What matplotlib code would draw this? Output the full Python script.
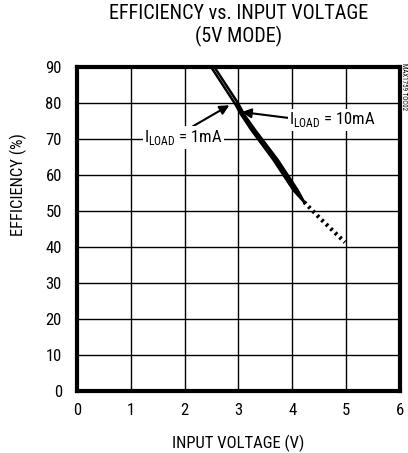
import matplotlib
matplotlib.use("Agg")
import matplotlib.pyplot as plt
import numpy as np

plt.rcParams["font.family"] = ["Roboto Condensed", "Liberation Sans", "DejaVu Sans"]
plt.rcParams["mathtext.fontset"] = "custom"
plt.rcParams["mathtext.rm"] = "Roboto Condensed"

# 1mA load curve (left edge of the band)
v_1ma = [2.50, 2.94, 3.04, 3.24, 3.65, 4.02, 4.22]
eff_1ma = [89.8, 79.7, 77.0, 72.5, 64.2, 55.8, 52.5]
# 10mA load curve (right edge of the band)
v_10ma = [2.56, 2.99, 3.11, 3.31, 3.73, 4.10, 4.22]
eff_10ma = [89.8, 80.0, 76.7, 72.5, 64.2, 55.8, 52.5]
# dotted extension
v_dot = [4.22, 4.5, 4.75, 4.98]
eff_dot = [52.5, 48.2, 44.6, 41.3]

xticks = [0, 1, 2, 3, 4, 5, 6]
yticks = [0, 10, 20, 30, 40, 50, 60, 70, 80, 90]

fig = plt.figure(figsize=(4.08, 4.53), dpi=100)
ax = fig.add_axes([0.189, 0.137, 0.791, 0.715])

ax.plot(v_1ma, eff_1ma, color="black", lw=1.8, solid_capstyle="round")
ax.plot(v_10ma, eff_10ma, color="black", lw=1.8, solid_capstyle="round")
# the two curves run together below ~80%, drawn as one filled band
ax.fill(v_1ma[1:] + v_10ma[:0:-1], eff_1ma[1:] + eff_10ma[:0:-1], color="black", lw=0)
ax.plot(v_dot, eff_dot, color="black", lw=3.0, linestyle=(0, (0.6, 0.9)))

ax.set_xlim(0, 6)
ax.set_ylim(0, 90)
ax.set_xticks(xticks)
ax.set_yticks(yticks)
ax.grid(True, color="black", lw=1.0)
ax.tick_params(length=0, labelsize=12, pad=9)
ax.tick_params(axis="y", pad=11)
for s in ax.spines.values():
    s.set_linewidth(3)

ax.set_xlabel("INPUT VOLTAGE (V)", fontsize=12, labelpad=12)
ax.set_ylabel("EFFICIENCY (%)", fontsize=12)
ax.yaxis.set_label_coords(-0.183, 0.636)
ax.yaxis.label.set_verticalalignment("center")
ax.set_title("EFFICIENCY vs. INPUT VOLTAGE\n(5V MODE)", fontsize=14.5, pad=18, linespacing=1.15)

ax.annotate("I$_{\\mathregular{LOAD}}$ = 1mA", xy=(2.83, 79.4), xytext=(1.98, 70.4),
            fontsize=12, ha="center", va="center",
            bbox=dict(boxstyle="square,pad=0.1", fc="white", ec="none"),
            arrowprops=dict(arrowstyle="-|>", color="black", lw=1.5, mutation_scale=14,
                            shrinkA=0, shrinkB=0, relpos=(0.58, 1.0)))
ax.annotate("I$_{\\mathregular{LOAD}}$ = 10mA", xy=(3.06, 77.5), xytext=(4.75, 75.3),
            fontsize=12, ha="center", va="center",
            bbox=dict(boxstyle="square,pad=0.1", fc="white", ec="none"),
            arrowprops=dict(arrowstyle="-|>", color="black", lw=1.5, mutation_scale=14,
                            shrinkA=0, shrinkB=0, relpos=(0.0, 0.6)))

fig.text(0.99, 0.862, "MAX1759 TOC02", rotation=-90, fontsize=5, ha="center", va="top")

fig.savefig("out.png", dpi=100)
